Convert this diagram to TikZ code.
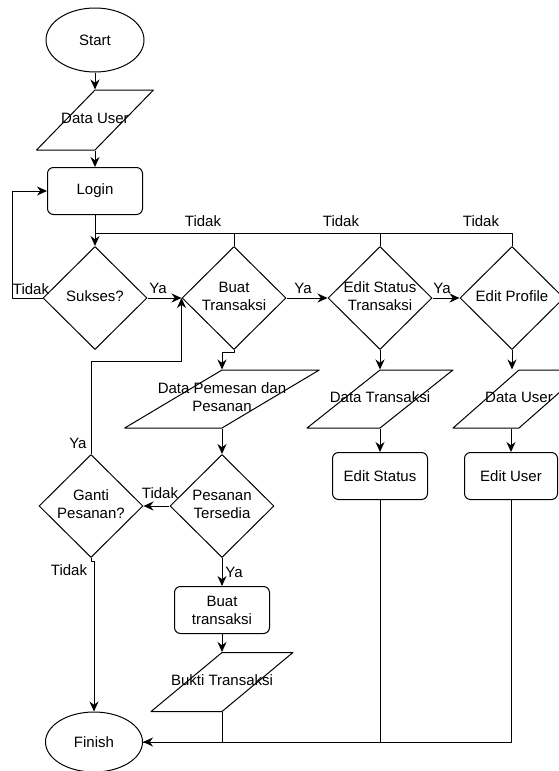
\documentclass[tikz,border=0pt]{standalone}
\usepackage{fontspec}
\setmainfont{Liberation Sans}
\usetikzlibrary{shapes.geometric,arrows.meta}
\newcommand{\ntext}[1]{\makebox[0pt]{\begin{tabular}{@{}c@{}}#1\end{tabular}}}

\begin{document}
\begin{tikzpicture}[x=1pt,y=-1pt,line width=1pt,line join=round,>={Stealth[length=10pt,width=9pt]},
	every node/.style={font=\fontsize{15}{18}\selectfont},
	term/.style={draw,ellipse,minimum width=98,minimum height=64,inner sep=0},
	proc/.style={draw,rounded corners=6,minimum width=95,minimum height=47,inner sep=0,align=center},
	dec/.style={draw,diamond,minimum width=104,minimum height=103,inner sep=0},
	io/.style={draw,trapezium,trapezium left angle=#1,trapezium right angle=180-#1,trapezium stretches=true,minimum height=58,inner sep=0},
	lbl/.style={inner sep=0}]
	\useasboundingbox (0,0) rectangle (558,771);
	% nodes
	\node[term] (start) at (95,40) {Start};
	\node[io=68,minimum width=117,minimum height=60] (udata) at (95,120) {\ntext{Data User}};
	\node[proc] (login) at (95,191) {Login};
	\node[dec] (sukses) at (95,298) {\ntext{Sukses?}};
	\node[dec] (buat) at (234,298) {\ntext{Buat\\Transaksi}};
	\node[dec] (stdec) at (380,298) {\ntext{Edit Status\\Transaksi}};
	\node[dec] (profdec) at (512,298) {\ntext{Edit Profile}};
	\node[io=68,minimum width=195] (pesdata) at (222,399) {\ntext{Data Pemesan dan\\Pesanan}};
	\node[io=58,minimum width=146] (trdata) at (380,399) {\ntext{Data Transaksi}};
	\node[io=58,minimum width=132] (udata2) at (519,399) {\ntext{Data User}};
	\node[proc] (stproc) at (380,476) {Edit Status};
	\node[proc,minimum width=93] (usproc) at (511,476) {Edit User};
	\node[dec] (tersedia) at (222,506) {\ntext{Pesanan\\Tersedia}};
	\node[dec] (ganti) at (91,506) {\ntext{Ganti\\Pesanan?}};
	\node[proc] (buat2) at (222,610) {Buat\\transaksi};
	\node[io=65,minimum width=142,minimum height=59] (bukti) at (222,682) {\ntext{Bukti Transaksi}};
	\node[term,minimum width=97,minimum height=60] (finish) at (94,742) {Finish};
	% main line
	\draw[->] (start) -- (udata);
	\draw[->] (udata) -- (login);
	\draw[->] (login) -- (sukses);
	\draw[->] (sukses.west) -- ++(-30,0) |- (login.west);
	\node[lbl] (t0) at (31,289) {Tidak};
	% back to the bus
	\coordinate (bus) at (95,233);
	\foreach \d in {buat,stdec,profdec}
	\draw (\d.north) |- (bus);
	\foreach \x/\n in {203/t1,341/t2,481/t3}
	\node[lbl] (\n) at (\x,221) {Tidak};
	\foreach \a/\b/\x/\n in {sukses/buat/158/y1,buat/stdec/303/y2,stdec/profdec/442/y3}{
		\draw[->] (\a) -- (\b);
		\node[lbl] (\n) at (\x,288) {Ya};
	}
	% columns
	\draw[->] (buat.south) -- ++(0,2) -| (pesdata.north);
	\draw[->] (pesdata) -- (tersedia);
	\draw[->] (tersedia) -- (ganti);
	\node[lbl] (t4) at (160,493) {Tidak};
	\draw[->] (ganti.north) -- ++(0,-93) -| (buat.west);
	\node[lbl,anchor=east] (y4) at (87,443) {Ya};
	\draw[->] (ganti.south) -- ++(0,3) -| (finish.north);
	\node[lbl] (t5) at (69,570) {Tidak};
	\draw[->] (tersedia) -- (buat2);
	\node[lbl] (y5) at (234,572) {Ya};
	\draw[->] (buat2) -- (bukti);
	\draw[->] (stdec) -- (trdata);
	\draw[->] (trdata) -- (stproc);
	\draw[->] (profdec.south) -- (profdec.south |- udata2.north);
	\draw[->] (usproc.north |- udata2.south) -- (usproc);
	% to finish
	\draw[->] (usproc.south) |- (finish.east);
	\foreach \n in {bukti,stproc}
	\draw (\n.south) |- (finish.east);
\end{tikzpicture}
\end{document}
